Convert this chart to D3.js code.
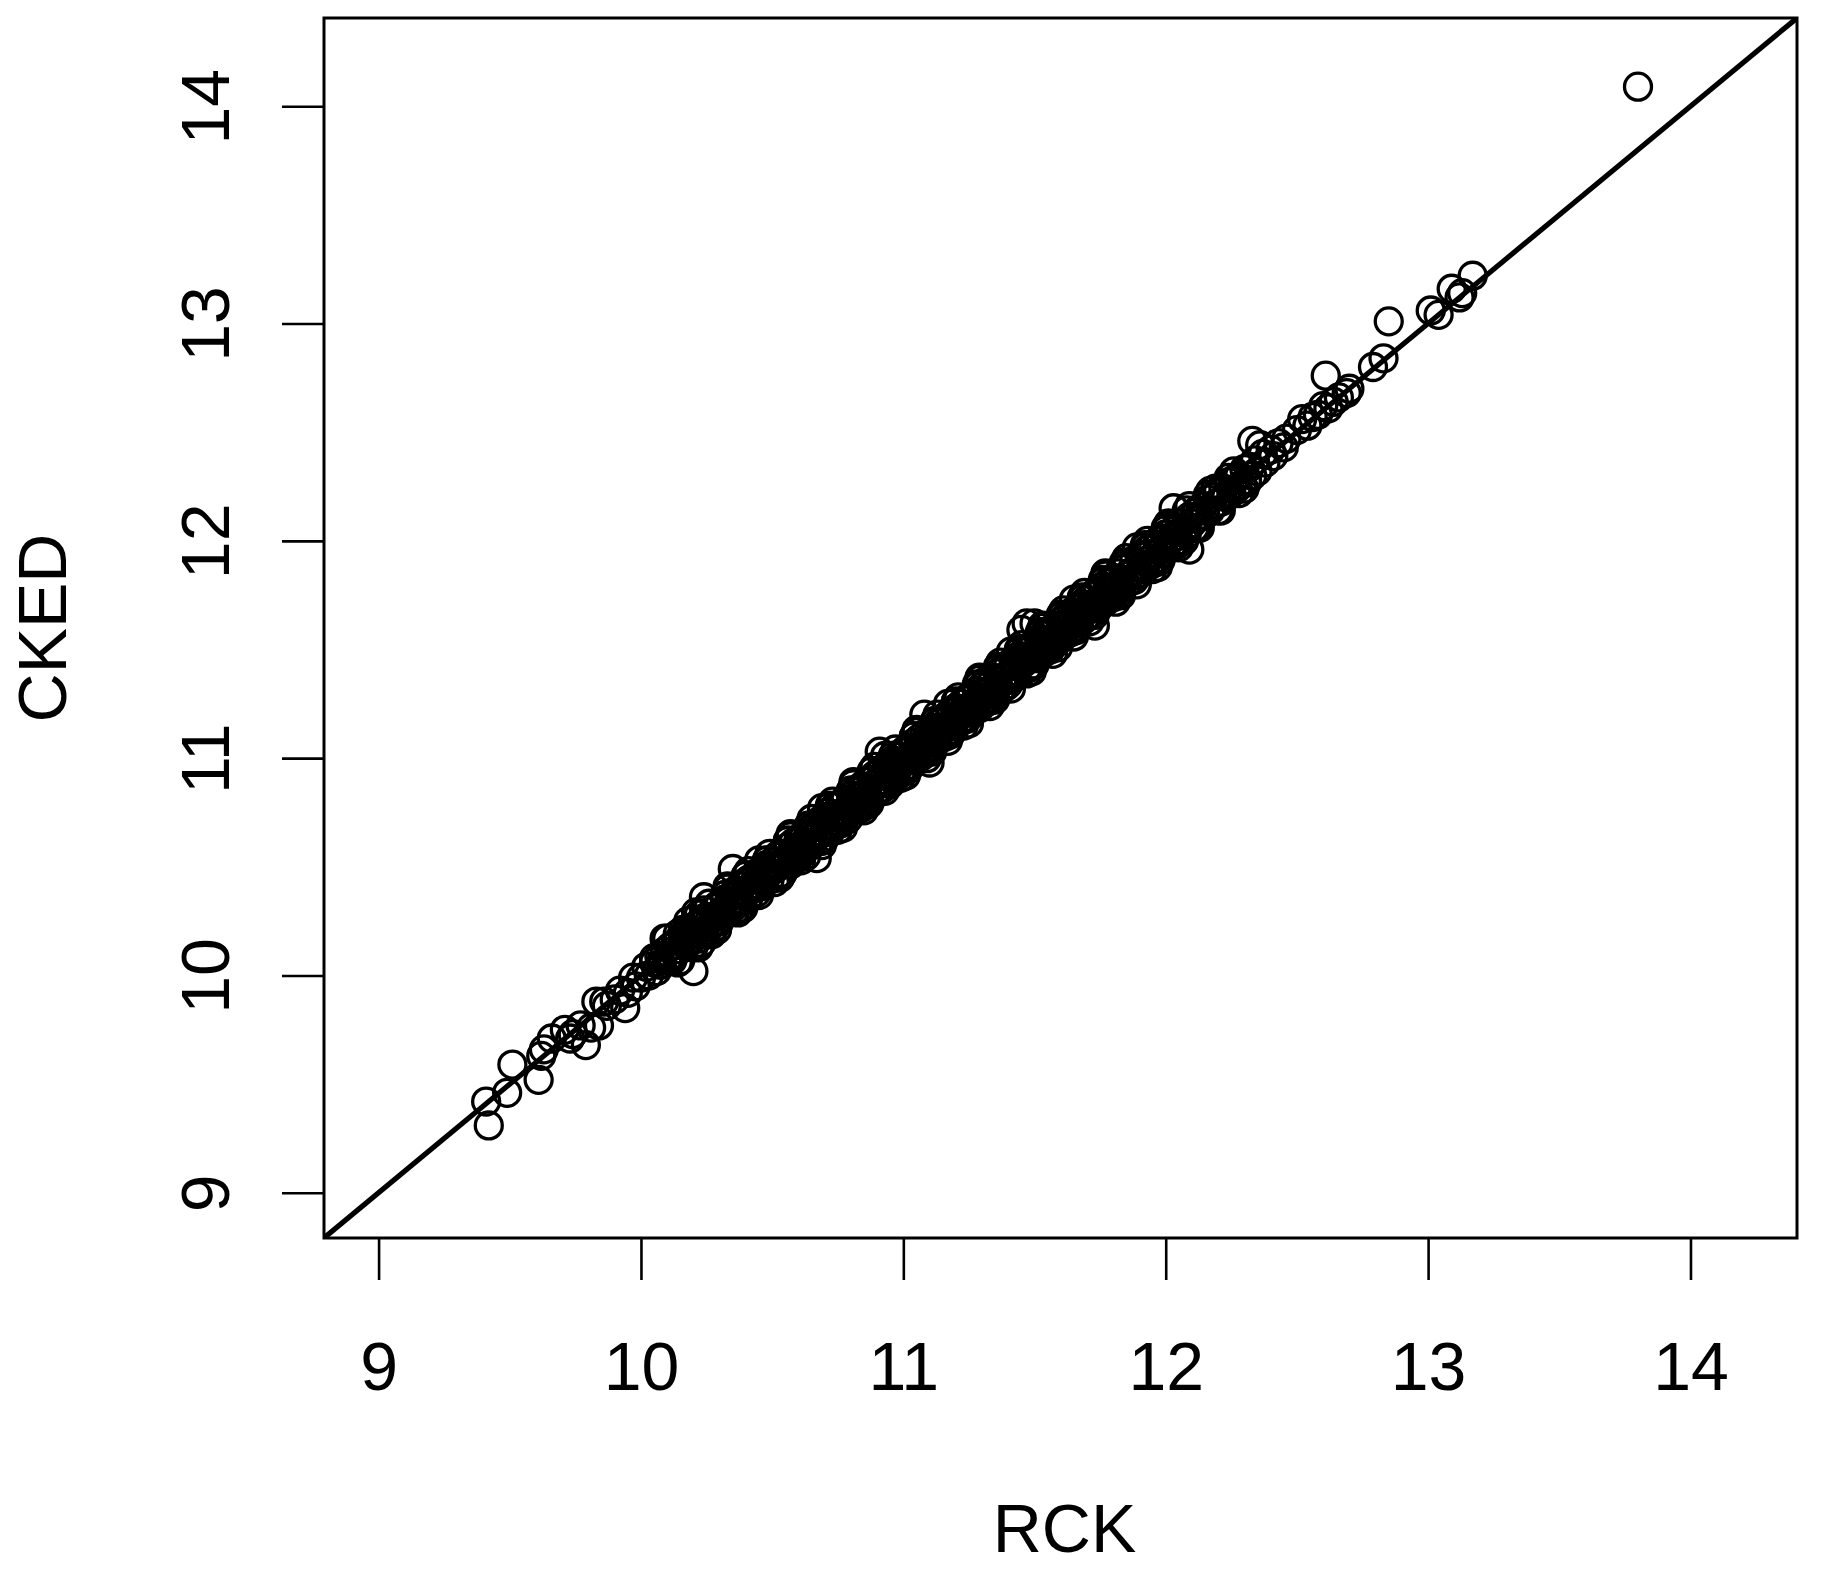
<!DOCTYPE html>
<html>
<head>
<meta charset="utf-8">
<script src="https://cdn.jsdelivr.net/npm/d3@7"></script>
<style>
  html, body { margin: 0; padding: 0; background: #ffffff; }
  svg { display: block; }
  text { font-family: "Liberation Sans", Arial, Helvetica, sans-serif; fill: #000; }
</style>
</head>
<body>
<svg id="chart" width="1822" height="1570"></svg>
<script>
// ---------------- DATA ----------------
const xTicks = [9, 10, 11, 12, 13, 14];
const yTicks = [9, 10, 11, 12, 13, 14];
const xLabel = "RCK";
const yLabel = "CKED";

// RCK values (x) and CKED values (y)
const rck = [
  9.41, 9.42, 9.49, 9.51, 9.61, 9.62, 9.63, 9.66, 9.71, 9.73, 9.74, 9.77, 9.79, 9.81, 9.84, 9.83, 9.86, 9.87, 9.90, 9.94, 9.92, 9.95, 9.97, 9.98,
  10.00, 10.02, 10.03, 10.05, 10.06, 10.07, 10.08, 10.09, 10.10, 10.11, 10.12, 10.13, 10.14, 10.15, 10.16, 10.17, 10.18, 10.19, 10.20, 10.20, 10.21, 10.22, 10.23, 10.23, 10.24, 10.24, 10.25, 10.26, 10.27, 10.28, 10.28, 10.29, 10.30, 10.30,
  10.31, 10.32, 10.33, 10.34, 10.35, 10.35, 10.36, 10.36, 10.37, 10.38, 10.39, 10.40, 10.40, 10.41, 10.42, 10.43, 10.44, 10.44, 10.45, 10.46, 10.47, 10.48, 10.48, 10.49, 10.50, 10.51, 10.52, 10.52, 10.53, 10.54, 10.55, 10.56, 10.56, 10.57, 10.58, 10.59, 10.60, 10.60,
  10.61, 10.62, 10.62, 10.63, 10.64, 10.65, 10.65, 10.66, 10.67, 10.67, 10.68, 10.68, 10.69, 10.70, 10.70, 10.71, 10.72, 10.72, 10.73, 10.74, 10.74, 10.75, 10.76, 10.76, 10.77, 10.78, 10.78, 10.79, 10.80, 10.80, 10.81, 10.82, 10.82, 10.83, 10.84, 10.84, 10.85, 10.86, 10.86, 10.87, 10.88, 10.88, 10.89, 10.90, 10.90,
  10.91, 10.92, 10.92, 10.91, 10.93, 10.94, 10.95, 10.95, 10.96, 10.97, 10.97, 10.98, 10.99, 10.99, 11.00, 11.00, 11.01, 11.02, 11.02, 11.03, 11.04, 11.04, 11.05, 11.06, 11.06, 11.07, 11.08, 11.08, 11.09, 11.10, 11.10, 11.10, 11.08, 11.11, 11.12, 11.12, 11.13, 11.14, 11.14, 11.15, 11.16, 11.16, 11.17, 11.18, 11.18, 11.19, 11.20, 11.20,
  11.21, 11.22, 11.22, 11.23, 11.24, 11.24, 11.25, 11.26, 11.26, 11.27, 11.28, 11.28, 11.29, 11.30, 11.30, 11.31, 11.32, 11.32, 11.33, 11.34, 11.34, 11.35, 11.36, 11.36, 11.37, 11.38, 11.38, 11.39, 11.40, 11.40, 11.41, 11.42, 11.42, 11.43, 11.44, 11.44, 11.45, 11.46, 11.46, 11.47, 11.47, 11.48, 11.48, 11.49, 11.50, 11.50, 11.50,
  11.51, 11.52, 11.52, 11.53, 11.54, 11.54, 11.55, 11.56, 11.56, 11.57, 11.58, 11.58, 11.59, 11.60, 11.60, 11.61, 11.62, 11.62, 11.63, 11.64, 11.64, 11.65, 11.66, 11.66, 11.67, 11.68, 11.68, 11.69, 11.70, 11.70, 11.71, 11.72, 11.72, 11.73, 11.74, 11.74, 11.75, 11.76, 11.76, 11.77, 11.78, 11.78, 11.79, 11.80, 11.80,
  11.81, 11.82, 11.82, 11.83, 11.84, 11.84, 11.85, 11.86, 11.87, 11.88, 11.88, 11.89, 11.90, 11.91, 11.92, 11.93, 11.93, 11.94, 11.95, 11.96, 11.97, 11.98, 11.98, 11.99, 12.00, 12.01, 12.02, 12.03, 12.03, 12.04, 12.05, 12.06, 12.07, 12.08, 12.09, 12.09, 12.10,
  12.11, 12.12, 12.13, 12.14, 12.15, 12.16, 12.17, 12.18, 12.19, 12.20, 12.21, 12.22, 12.23, 12.24, 12.25, 12.26, 12.27, 12.28, 12.29, 12.30, 12.31, 12.32, 12.33, 12.33, 12.34, 12.35, 12.36, 12.37, 12.38, 12.40, 12.41, 12.43, 12.45, 12.46,
  12.50, 12.52, 12.54, 12.56, 12.58, 12.60, 12.61, 12.62, 12.64, 12.66, 12.69, 12.70, 12.79, 12.83, 12.85, 13.01, 13.04, 13.09, 13.12, 13.13, 13.17, 13.80,
  10.10, 10.14, 10.18, 10.22, 10.26, 10.29, 10.33, 10.37, 10.41, 10.45, 10.49, 10.53, 10.57, 10.61, 10.65, 10.69, 10.73, 10.77, 10.81, 10.85, 10.89, 10.93, 10.97, 11.01, 11.05, 11.09, 11.13, 11.17,
  11.21, 11.25, 11.29, 11.33, 11.37, 11.41, 11.45, 11.49, 11.53, 11.57, 11.61, 11.65, 11.69, 11.73, 11.77, 11.81, 11.85, 11.89, 11.93, 11.97, 12.01, 12.05, 12.09, 12.13, 12.17, 12.21, 12.26, 12.30,
  10.16, 10.20, 10.24, 10.28, 10.32, 10.36, 10.40, 10.44, 10.48, 10.52, 10.56, 10.60, 10.64, 10.68, 10.72, 10.76, 10.80, 10.84, 10.88, 10.92, 10.96, 11.00, 11.04, 11.08, 11.12, 11.16, 11.20,
  11.24, 11.28, 11.32, 11.36, 11.40, 11.44, 11.48, 11.52, 11.56, 11.60, 11.64, 11.68, 11.72, 11.76, 11.80, 11.84, 11.88, 11.92, 11.96, 12.00, 12.04, 12.08, 12.12, 12.16, 12.20, 12.24, 12.28,
  10.05, 10.07, 10.09, 10.11, 10.13, 10.15, 10.17, 10.19, 10.21, 10.23, 10.25, 10.27, 10.29, 10.31, 10.33, 10.35, 10.37, 10.39, 10.41, 10.43, 10.45, 10.47, 10.49, 10.51, 10.53, 10.55, 10.57, 10.59, 10.61, 10.63, 10.65, 10.67, 10.69, 10.71, 10.73, 10.75,
  10.77, 10.79, 10.81, 10.83, 10.85, 10.87, 10.89, 10.91, 10.93, 10.95, 10.97, 10.99, 11.01, 11.03, 11.05, 11.07, 11.09, 11.11, 11.13, 11.15, 11.17, 11.19, 11.21, 11.23, 11.25, 11.27, 11.29, 11.31, 11.33, 11.35, 11.37, 11.39, 11.41, 11.43, 11.45, 11.47,
  11.49, 11.51, 11.53, 11.55, 11.57, 11.59, 11.61, 11.63, 11.65, 11.67, 11.69, 11.71, 11.73, 11.75, 11.77, 11.79, 11.81, 11.83, 11.85, 11.87, 11.89, 11.91, 11.93, 11.95, 11.97, 11.99, 12.01, 12.03, 12.05, 12.07, 12.11, 12.15, 12.19, 12.23, 12.27, 12.31,
  10.12, 10.14, 10.18, 10.20, 10.22, 10.26, 10.30, 10.32, 10.34, 10.38, 10.40, 10.42, 10.46, 10.48, 10.50, 10.54, 10.56, 10.58, 10.62, 10.64, 10.66, 10.70, 10.72, 10.74,
  10.78, 10.80, 10.82, 10.86, 10.88, 10.90, 10.94, 10.96, 10.98, 11.02, 11.04, 11.06, 11.10, 11.12, 11.14, 11.18, 11.20, 11.22, 11.26, 11.28, 11.30, 11.34, 11.36, 11.38,
  11.42, 11.44, 11.46, 11.50, 11.52, 11.54, 11.58, 11.60, 11.62, 11.66, 11.68, 11.70, 11.74, 11.76, 11.78, 11.82, 11.84, 11.86, 11.90, 11.92, 11.94, 11.98, 12.00, 12.02
];
const cked = [
  9.42, 9.31, 9.46, 9.59, 9.52, 9.63, 9.66, 9.71, 9.75, 9.71, 9.73, 9.77, 9.68, 9.76, 9.77, 9.88, 9.88, 9.86, 9.89, 9.85, 9.93, 9.92, 9.99, 9.95,
  9.99, 10.04, 10.00, 10.06, 10.02, 10.09, 10.05, 10.11, 10.07, 10.13, 10.08, 10.10, 10.16, 10.12, 10.18, 10.14, 10.21, 10.16, 10.02, 10.19, 10.23, 10.17, 10.25, 10.15, 10.20, 10.36, 10.27, 10.22, 10.24, 10.31, 10.27, 10.25, 10.33, 10.28,
  10.30, 10.35, 10.29, 10.36, 10.32, 10.49, 10.39, 10.34, 10.33, 10.41, 10.37, 10.43, 10.38, 10.36, 10.44, 10.40, 10.47, 10.42, 10.41, 10.48, 10.45, 10.51, 10.46, 10.44, 10.52, 10.49, 10.55, 10.50, 10.47, 10.56, 10.53, 10.59, 10.54, 10.51, 10.61, 10.57, 10.62, 10.56,
  10.60, 10.65, 10.58, 10.61, 10.67, 10.63, 10.60, 10.69, 10.64, 10.54, 10.71, 10.66, 10.62, 10.72, 10.68, 10.75, 10.69, 10.66, 10.74, 10.71, 10.78, 10.73, 10.70, 10.79, 10.75, 10.81, 10.74, 10.72, 10.83, 10.78, 10.76, 10.85, 10.80, 10.78, 10.87, 10.82, 10.79, 10.89, 10.84, 10.81, 10.90, 10.86, 10.83, 10.93, 10.88,
  10.86, 10.95, 10.90, 11.03, 10.89, 10.97, 10.93, 10.88, 10.99, 10.95, 10.91, 11.01, 10.97, 10.93, 11.03, 10.98, 10.96, 11.05, 11.00, 10.97, 11.07, 11.02, 10.99, 11.09, 11.04, 11.01, 11.11, 11.06, 11.03, 10.98, 11.12, 11.08, 11.20, 11.05, 11.14, 11.10, 11.08, 11.17, 11.12, 11.10, 11.19, 11.14, 11.12, 11.21, 11.16, 11.13, 11.23, 11.18,
  11.16, 11.25, 11.20, 11.18, 11.27, 11.22, 11.19, 11.29, 11.24, 11.22, 11.31, 11.26, 11.23, 11.33, 11.28, 11.26, 11.36, 11.30, 11.27, 11.37, 11.32, 11.30, 11.39, 11.34, 11.31, 11.41, 11.36, 11.33, 11.43, 11.38, 11.36, 11.45, 11.40, 11.38, 11.47, 11.42, 11.59, 11.49, 11.44, 11.62, 11.41, 11.51, 11.46, 11.43, 11.53, 11.48, 11.62,
  11.46, 11.55, 11.50, 11.48, 11.57, 11.52, 11.50, 11.59, 11.54, 11.52, 11.61, 11.56, 11.54, 11.63, 11.58, 11.56, 11.65, 11.60, 11.58, 11.67, 11.62, 11.60, 11.69, 11.64, 11.62, 11.71, 11.66, 11.64, 11.73, 11.68, 11.66, 11.75, 11.70, 11.61, 11.77, 11.72, 11.70, 11.79, 11.74, 11.72, 11.81, 11.76, 11.74, 11.83, 11.78,
  11.76, 11.85, 11.80, 11.78, 11.87, 11.82, 11.90, 11.84, 11.82, 11.91, 11.86, 11.84, 11.93, 11.89, 11.87, 11.96, 11.91, 11.89, 11.98, 11.94, 11.92, 12.01, 11.96, 11.94, 12.03, 11.99, 11.97, 12.15, 12.05, 12.02, 12.00, 12.08, 12.05, 12.03, 11.96, 12.11, 12.08,
  12.06, 12.14, 12.11, 12.16, 12.12, 12.19, 12.14, 12.20, 12.17, 12.23, 12.18, 12.24, 12.21, 12.27, 12.22, 12.28, 12.24, 12.30, 12.26, 12.33, 12.28, 12.34, 12.30, 12.46, 12.37, 12.32, 12.44, 12.40, 12.36, 12.42, 12.39, 12.45, 12.43, 12.47,
  12.51, 12.56, 12.53, 12.57, 12.58, 12.62, 12.76, 12.61, 12.64, 12.66, 12.68, 12.70, 12.80, 12.84, 13.01, 13.06, 13.04, 13.16, 13.12, 13.14, 13.22, 14.09,
  10.17, 10.06, 10.25, 10.13, 10.33, 10.21, 10.40, 10.29, 10.48, 10.37, 10.56, 10.45, 10.64, 10.53, 10.72, 10.60, 10.80, 10.68, 10.88, 10.76, 10.96, 10.85, 11.04, 10.92, 11.12, 11.00, 11.20, 11.08,
  11.28, 11.16, 11.36, 11.24, 11.44, 11.32, 11.52, 11.40, 11.60, 11.48, 11.68, 11.56, 11.76, 11.66, 11.84, 11.72, 11.92, 11.80, 12.00, 11.88, 12.08, 11.97, 12.16, 12.06, 12.23, 12.14, 12.32, 12.24,
  10.21, 10.14, 10.30, 10.22, 10.37, 10.30, 10.46, 10.38, 10.53, 10.46, 10.62, 10.54, 10.69, 10.62, 10.78, 10.70, 10.85, 10.77, 10.94, 10.86, 11.01, 10.94, 11.10, 11.02, 11.17, 11.10, 11.26,
  11.18, 11.34, 11.26, 11.41, 11.34, 11.50, 11.42, 11.57, 11.50, 11.66, 11.58, 11.73, 11.66, 11.82, 11.74, 11.89, 11.82, 11.98, 11.90, 12.05, 11.98, 12.14, 12.06, 12.21, 12.14, 12.29, 12.22,
  10.08, 10.05, 10.17, 10.07, 10.14, 10.07, 10.20, 10.17, 10.29, 10.19, 10.26, 10.19, 10.32, 10.29, 10.41, 10.31, 10.38, 10.31, 10.44, 10.41, 10.53, 10.43, 10.50, 10.43, 10.56, 10.53, 10.65, 10.55, 10.62, 10.55, 10.68, 10.65, 10.77, 10.67, 10.74, 10.67,
  10.80, 10.77, 10.89, 10.79, 10.86, 10.79, 10.92, 10.89, 11.01, 10.91, 10.98, 10.91, 11.04, 11.01, 11.13, 11.03, 11.10, 11.03, 11.16, 11.13, 11.25, 11.15, 11.22, 11.15, 11.28, 11.25, 11.37, 11.27, 11.34, 11.27, 11.40, 11.37, 11.49, 11.39, 11.46, 11.39,
  11.52, 11.49, 11.61, 11.51, 11.58, 11.51, 11.64, 11.61, 11.73, 11.63, 11.70, 11.63, 11.76, 11.73, 11.85, 11.75, 11.82, 11.75, 11.88, 11.85, 11.97, 11.87, 11.94, 11.87, 12.00, 11.97, 12.07, 11.99, 12.06, 12.00, 12.13, 12.14, 12.24, 12.20, 12.29, 12.27,
  10.07, 10.19, 10.18, 10.13, 10.28, 10.25, 10.25, 10.37, 10.34, 10.31, 10.46, 10.41, 10.41, 10.53, 10.50, 10.47, 10.62, 10.57, 10.57, 10.69, 10.66, 10.63, 10.78, 10.73,
  10.73, 10.85, 10.82, 10.79, 10.94, 10.89, 10.89, 11.01, 10.98, 10.95, 11.10, 11.05, 11.05, 11.17, 11.14, 11.11, 11.26, 11.21, 11.21, 11.33, 11.30, 11.27, 11.42, 11.37,
  11.37, 11.49, 11.46, 11.43, 11.58, 11.53, 11.53, 11.65, 11.62, 11.59, 11.74, 11.69, 11.69, 11.81, 11.78, 11.75, 11.90, 11.85, 11.85, 11.97, 11.94, 11.91, 12.06, 12.01
];

// ---------------- LAYOUT ----------------
const svg = d3.select("#chart");
const W = 1822, H = 1570;
const plot = { left: 324, right: 1797, top: 18, bottom: 1238 };
const domain = [8.792, 14.406];

svg.append("rect").attr("x", 0).attr("y", 0).attr("width", W).attr("height", H).attr("fill", "#fff");

const x = d3.scaleLinear().domain(domain).range([plot.left, plot.right]);
const y = d3.scaleLinear().domain(domain).range([plot.bottom, plot.top]);

const FONT = 68;

// clip
svg.append("clipPath").attr("id", "clip")
  .append("rect")
  .attr("x", plot.left).attr("y", plot.top)
  .attr("width", plot.right - plot.left).attr("height", plot.bottom - plot.top);

// points
const pts = rck.map((v, i) => ({ x: v, y: cked[i] }));
svg.append("g").attr("clip-path", "url(#clip)")
  .selectAll("circle").data(pts).join("circle")
  .attr("cx", d => x(d.x))
  .attr("cy", d => y(d.y))
  .attr("r", 13.5)
  .attr("fill", "none")
  .attr("stroke", "#000")
  .attr("stroke-width", 3.3);

// identity line
svg.append("g").attr("clip-path", "url(#clip)")
  .append("line")
  .attr("x1", x(domain[0])).attr("y1", y(domain[0]))
  .attr("x2", x(domain[1])).attr("y2", y(domain[1]))
  .attr("stroke", "#000").attr("stroke-width", 5.2);

// x axis
const gx = svg.append("g")
  .attr("transform", `translate(0,${plot.bottom})`)
  .call(d3.axisBottom(x).tickValues(xTicks).tickSize(42).tickSizeOuter(0).tickPadding(0).tickFormat(d3.format("d")));
gx.select(".domain").remove();
gx.selectAll(".tick line").attr("stroke", "#000").attr("stroke-width", 2.6);
gx.selectAll(".tick text")
  .attr("y", 152).attr("dy", 0)
  .attr("font-size", FONT)
  .attr("font-family", '"Liberation Sans", Arial, sans-serif')
  .attr("fill", "#000");

// y axis
const gy = svg.append("g")
  .attr("transform", `translate(${plot.left},0)`)
  .call(d3.axisLeft(y).tickValues(yTicks).tickSize(42).tickSizeOuter(0).tickPadding(0).tickFormat(d3.format("d")));
gy.select(".domain").remove();
gy.selectAll(".tick line").attr("stroke", "#000").attr("stroke-width", 2.6);
gy.selectAll(".tick text")
  .attr("x", 0).attr("dy", 0)
  .attr("text-anchor", "middle")
  .attr("transform", "translate(-95,0) rotate(-90)")
  .attr("font-size", FONT)
  .attr("font-family", '"Liberation Sans", Arial, sans-serif')
  .attr("fill", "#000");

// box
svg.append("rect")
  .attr("x", plot.left).attr("y", plot.top)
  .attr("width", plot.right - plot.left).attr("height", plot.bottom - plot.top)
  .attr("fill", "none").attr("stroke", "#000").attr("stroke-width", 3);

// axis titles
svg.append("text")
  .attr("x", (plot.left + plot.right) / 2 + 4).attr("y", 1552)
  .attr("text-anchor", "middle")
  .attr("font-size", FONT)
  .text(xLabel);

svg.append("text")
  .attr("transform", `translate(66,${(plot.top + plot.bottom) / 2}) rotate(-90)`)
  .attr("text-anchor", "middle")
  .attr("font-size", FONT)
  .text(yLabel);
</script>
</body>
</html>
